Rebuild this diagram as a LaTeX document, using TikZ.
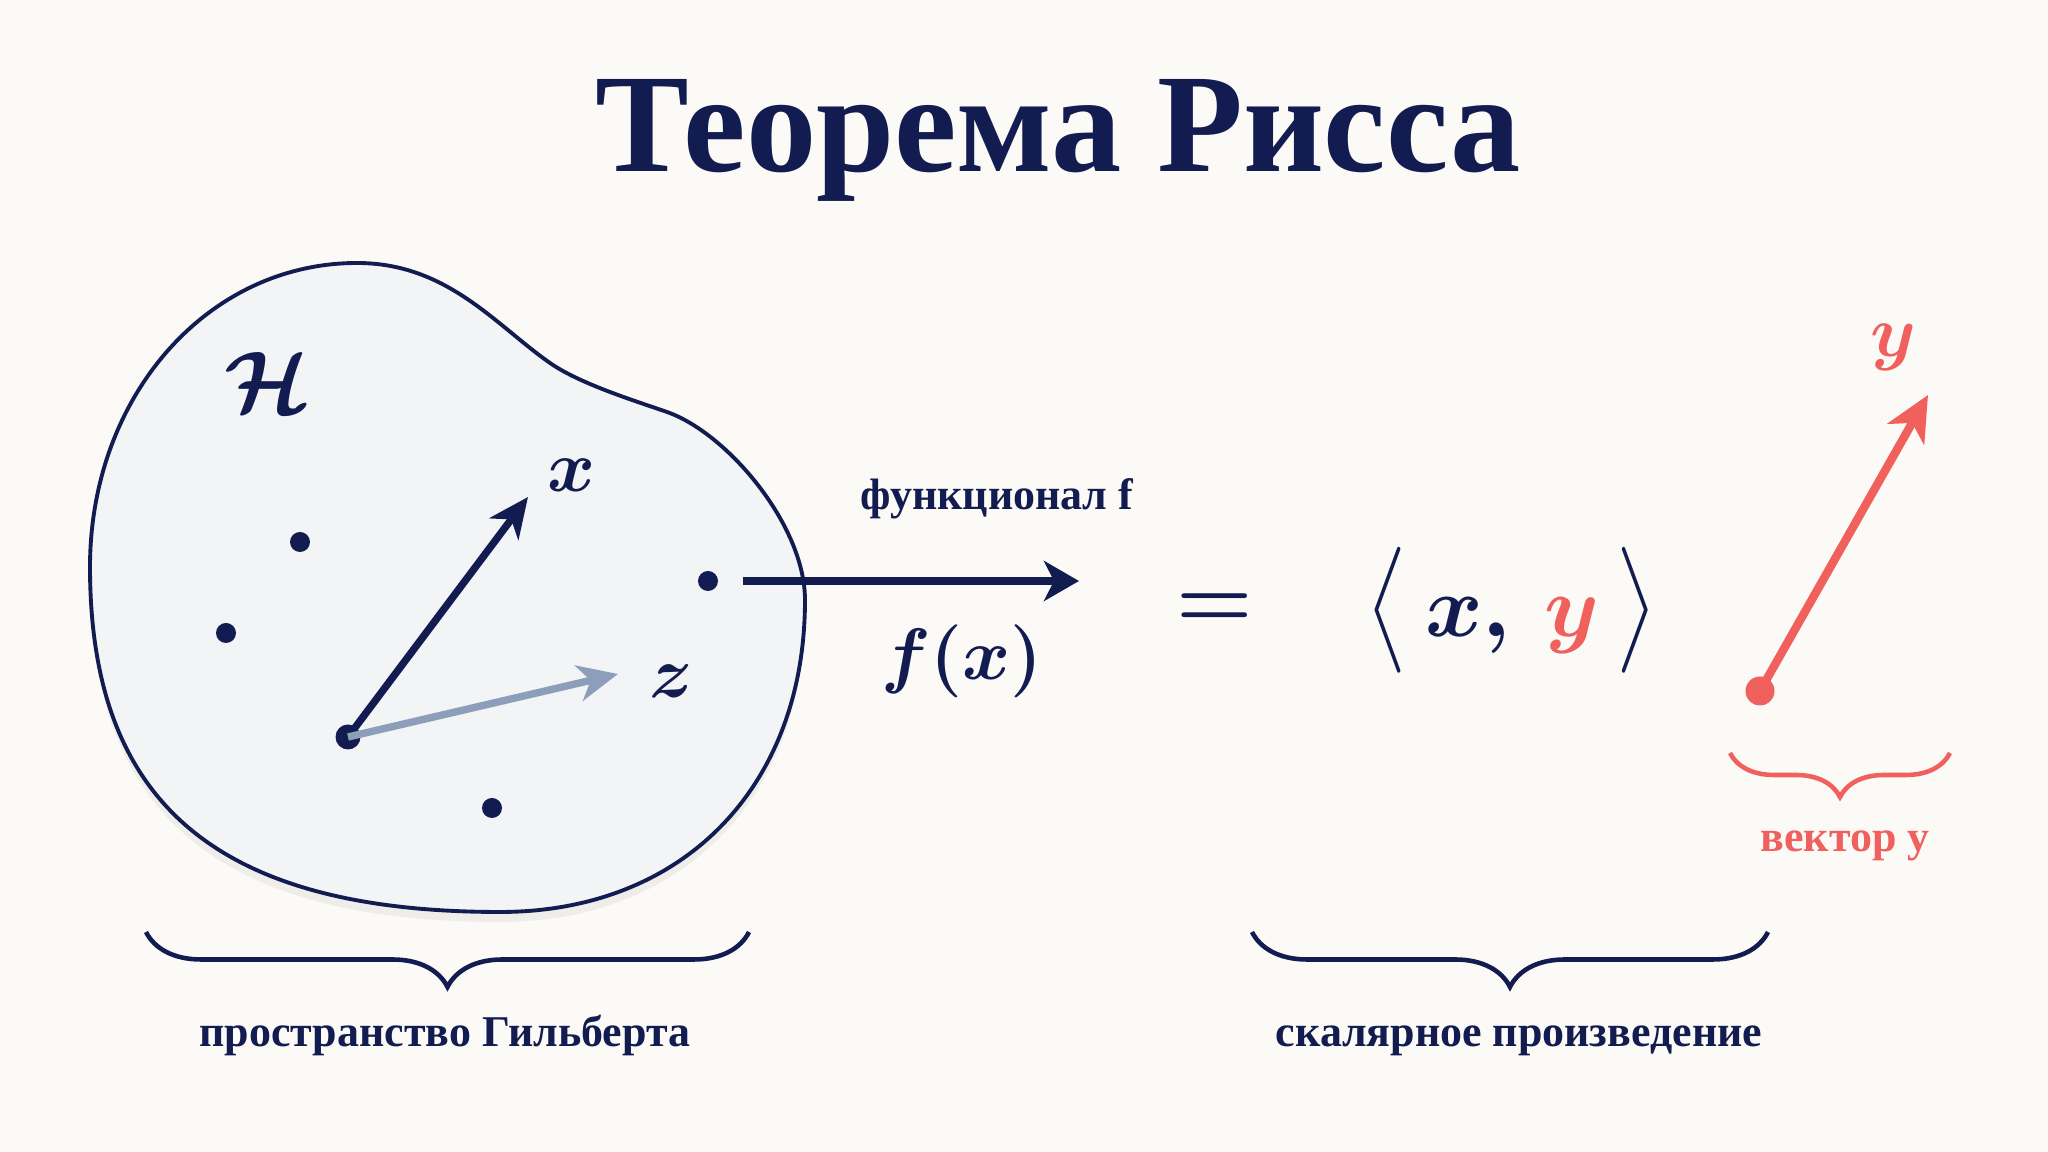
\documentclass[tikz,border=0pt]{standalone}
\usepackage{amsmath}
\usepackage{fontspec}
\setmainfont{Liberation Serif}
\usetikzlibrary{arrows.meta,decorations.pathreplacing,shadows,positioning}
\definecolor{navy}{RGB}{18,28,80}
\definecolor{coral}{RGB}{240,96,92}
\definecolor{slate}{RGB}{140,158,185}
\definecolor{paper}{RGB}{252,250,246}
\definecolor{blobfill}{RGB}{242,244,246}
\newcommand{\tallbr}[1]{\scalebox{1}[1.2]{$\bigl#1$}}
\begin{document}
\begin{tikzpicture}[
    dot/.style={circle, fill=navy, inner sep=0pt, minimum size=2mm},
    vec/.style={line width=2.1pt, -{Stealth[length=4mm, width=3.6mm, inset=1.2mm]}},
    lbl/.style={font=\bfseries\fontsize{12.5}{15}\selectfont, text=navy},
    mlbl/.style={font=\boldmath\fontsize{22}{26}\selectfont, text=navy},
    brc/.style={decorate, decoration={brace, mirror, amplitude=5.5mm}, line width=1.3pt}
]
% Фон
\fill[paper] (0,0) rectangle (20.48,11.52);
\useasboundingbox (0,0) rectangle (20.48,11.52);

% Заголовок
\node[font=\bfseries\fontsize{40}{48}\selectfont, text=navy, anchor=base] (title) at (10.58,9.80) {Теорема Рисса};

% Пространство H
\path[draw=navy, line width=1.1pt, fill=blobfill,
      drop shadow={shadow xshift=0pt, shadow yshift=-1mm, opacity=0.05, fill=black}]
  (3.57,8.89) .. controls (4.47,8.89) and (4.95,8.275) .. (5.50,7.89)
  .. controls (5.80,7.68) and (6.37,7.505) .. (6.67,7.40)
  .. controls (7.27,7.19) and (8.05,6.27) .. (8.05,5.52)
  .. controls (8.05,3.65) and (6.83,2.40) .. (5.00,2.40)
  .. controls (2.10,2.40) and (0.90,3.55) .. (0.90,5.85)
  .. controls (0.90,7.55) and (2.07,8.89) .. (3.57,8.89) -- cycle;
\node[mlbl, font=\boldmath\fontsize{24}{28}\selectfont] (H) at (2.68,7.69) {$\mathcal{H}$};

% Точки
\node[dot] (p1) at (3.00,6.10) {};
\node[dot] (p2) at (2.26,5.19) {};
\node[dot] (p3) at (7.08,5.71) {};
\node[dot] (p4) at (4.92,3.44) {};
\node[dot, minimum size=2.5mm] (o) at (3.48,4.15) {};

% Векторы x и z
\coordinate (xtip) at (5.28,6.55);
\coordinate (ztip) at (6.18,4.78);
\draw[vec, navy] (o.center) -- (xtip);
\draw[vec, slate] (o.center) -- (ztip);
\node[mlbl] (xl) at (5.72,6.77) {$x$};
\node[mlbl] (zl) at (6.71,4.71) {$z$};

% Функционал
\coordinate (fend) at (10.79,5.71);
\draw[navy, line width=2.5pt, -{Stealth[length=3.5mm, width=4mm, inset=1mm]}, shorten <=2.4mm] (p3.east) -- (fend);
\node[lbl, anchor=base] (fl) at (9.97,6.42) {функционал f};
\node[mlbl, font=\boldmath\fontsize{21}{25}\selectfont] (fx) at (9.62,4.91) {$f(x)$};

% Скалярное произведение
\node[mlbl, font=\boldmath\fontsize{30}{42}\selectfont] (eq) at (12.15,5.41) {$=$};
\node[mlbl, font=\boldmath\fontsize{30}{42}\selectfont] (ip) at (15.12,5.42)
  {\tallbr\langle$\,x,\, {\color{coral}y}\,$\tallbr\rangle};

% Вектор y
\node[circle, fill=coral, inner sep=0pt, minimum size=2.9mm] (yo) at (17.60,4.61) {};
\coordinate (ytip) at (19.28,7.57);
\draw[coral, line width=2.4pt, -{Stealth[length=4.5mm, width=4.2mm, inset=1.3mm]}] (yo.center) -- (ytip);
\node[mlbl, text=coral] (yl) at (18.93,8.05) {$y$};

% Скобки
\coordinate (b1a) at (1.46,2.20);
\coordinate (b1b) at (7.49,2.20);
\coordinate (b2a) at (12.52,2.20);
\coordinate (b2b) at (17.68,2.20);
\coordinate (b3a) at (17.30,3.99);
\coordinate (b3b) at (19.50,3.99);
\draw[brc, navy] (b1a) -- (b1b);
\draw[brc, navy] (b2a) -- (b2b);
\draw[brc, coral, decoration={amplitude=4.4mm}] (b3a) -- (b3b);

\node[lbl, anchor=base] (hl) at (4.45,1.05) {пространство Гильберта};
\node[lbl, anchor=base] (sl) at (15.19,1.05) {скалярное произведение};
\node[lbl, anchor=base, text=coral] (vl) at (18.45,3.00) {вектор y};
\end{tikzpicture}
\end{document}
